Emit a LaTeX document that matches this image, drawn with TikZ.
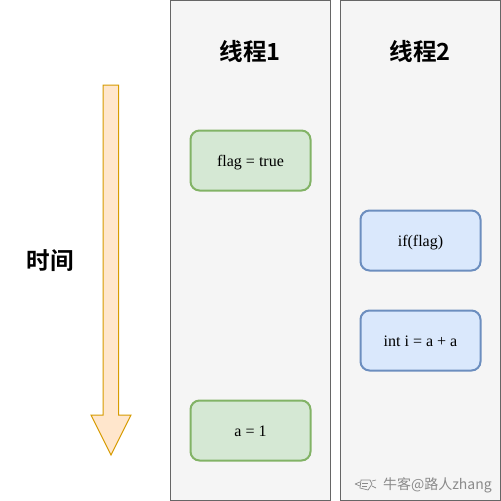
\documentclass[tikz,border=0pt]{standalone}
\usepackage{fontspec}
\setmainfont{Liberation Serif}
\newfontfamily\cjkbold[BoldFont={Noto Sans CJK SC Bold}]{Noto Sans CJK SC}
\newfontfamily\cjkmark{Noto Sans CJK SC}
\usetikzlibrary{positioning}
\definecolor{lanefill}{HTML}{F5F5F5}
\definecolor{laneline}{HTML}{666666}
\definecolor{greenfill}{HTML}{D5E8D4}
\definecolor{greenline}{HTML}{82B366}
\definecolor{bluefill}{HTML}{DAE8FC}
\definecolor{blueline}{HTML}{6C8EBF}
\definecolor{arrowfill}{HTML}{FFE6CC}
\definecolor{arrowline}{HTML}{D79B00}
\definecolor{markgray}{HTML}{8A8A8A}
\tikzset{
  lane/.style={draw=laneline,fill=lanefill,line width=1pt,minimum width=160pt,minimum height=500pt,inner sep=0pt},
  title/.style={font=\cjkbold\bfseries\fontsize{23.6}{24}\selectfont,inner sep=0pt},
  stepgreen/.style={draw=greenline,fill=greenfill,line width=2pt,rounded corners=9pt,minimum width=120pt,minimum height=60pt,inner sep=0pt,text height=13pt,text depth=2pt,font=\fontsize{16}{16}\selectfont},
  stepblue/.style={stepgreen,draw=blueline,fill=bluefill},
}
\begin{document}
\begin{tikzpicture}[x=1pt,y=-1pt]
\useasboundingbox (0,0) rectangle (501,501);
\fill[white] (0,0) rectangle (501,501);
% time arrow
\draw[draw=arrowline,fill=arrowfill,line width=1pt,line join=miter]
  (103,85)--(118.5,85)--(118.5,415)--(131,415)--(111,455)--(91,415)--(103,415)--cycle;
\node[title] (time) at (50.5,261) {时间};
% lanes
\node[lane] (lane1) at (250.5,250.5) {};
\node[lane] (lane2) at (420.5,250.5) {};
\node[title] (title1) at (250,51) {线程1};
\node[title] (title2) at (420,51) {线程2};
% thread 1
\node[stepgreen] (flag) at (250.5,160.5) {flag = true};
\node[stepgreen] (assign) at (250.5,430.5) {a = 1};
% thread 2
\node[stepblue] (cond) at (420.5,240.5) {if(flag)};
\node[stepblue] (sum) at (420.5,340.5) {int i = a + a};
% watermark
\node[font=\cjkmark\fontsize{14}{14}\selectfont,text=markgray,anchor=east,inner sep=0pt] (mark) at (492,485) {牛客@路人zhang};
\begin{scope}[draw=markgray,line width=0.7pt]
  \draw (361,480)--(370,480)--(372,484)--(368,490)--(360,488)--cycle;
  \draw (355,484)--(360,482) (355,484)--(360,486) (372,481)--(376,480) (372,486)--(376,488);
  \draw (362,483)--(368,483) (362,486)--(367,486);
\end{scope}
\end{tikzpicture}
\end{document}
